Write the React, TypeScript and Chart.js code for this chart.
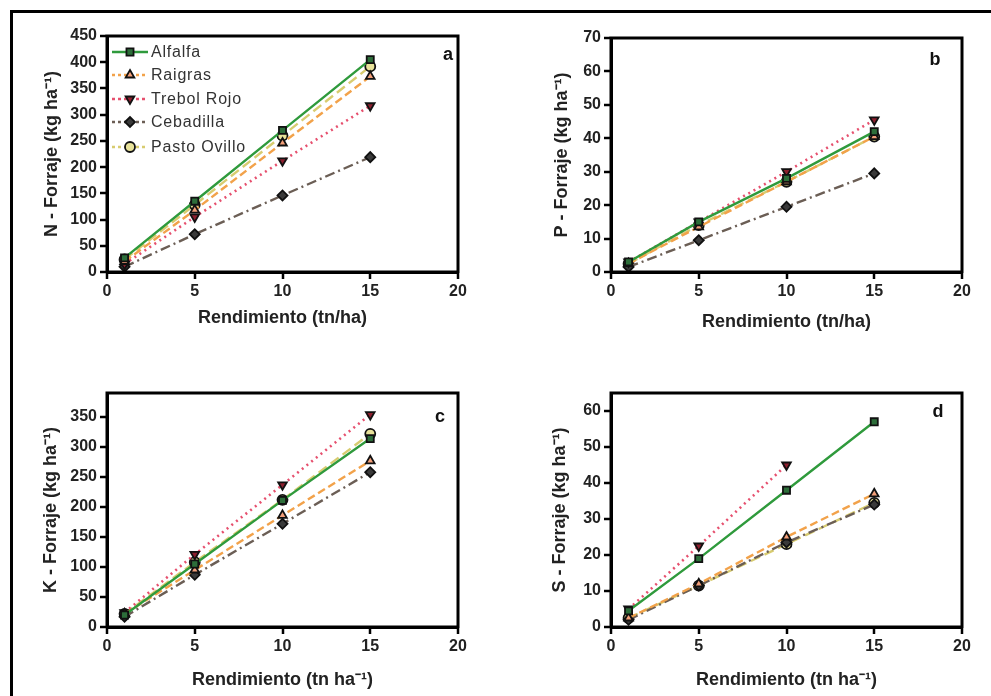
import React, { useEffect, useRef } from "react";
import { Chart, registerables } from "chart.js";
import { drawPoint } from "chart.js/helpers";

Chart.register(...registerables);

// ---------------- data ----------------
const xValues = [1, 5, 10, 15];
const seriesNames = ["Alfalfa", "Raigras", "Trebol Rojo", "Cebadilla", "Pasto Ovillo"];
const xTicks = [0, 5, 10, 15, 20];

// N
const nAlfalfa = [27, 135, 270, 405];
const nRaigras = [20, 118, 246, 373];
const nTrebolRojo = [15, 105, 212, 317];
const nCebadilla = [10, 72, 146, 219];
const nPastoOvillo = [24, 128, 260, 392];

// P
const pAlfalfa = [3, 15, 28, 42];
const pRaigras = [2.5, 13.5, 27, 40.5];
const pTrebolRojo = [3, 15, 30, 45.5];
const pCebadilla = [1.5, 9.5, 19.5, 29.5];
const pPastoOvillo = [2.5, 14, 27, 40.5];

// K
const kAlfalfa = [20, 105, 211, 314];
const kRaigras = [22, 95, 186, 277];
const kTrebolRojo = [24, 121, 237, 354];
const kCebadilla = [17, 87, 172, 258];
const kPastoOvillo = [22, 108, 212, 322];

// S
const sAlfalfa = [4.5, 19, 38, 57];
const sRaigras = [2.5, 12, 25, 37];
const sTrebolRojo = [5, 22.5, 45, null];
const sCebadilla = [2, 11.5, 23.5, 34];
const sPastoOvillo = [2.5, 11.5, 23, 34.5];

const yTicksN = [0, 50, 100, 150, 200, 250, 300, 350, 400, 450];
const yTicksP = [0, 10, 20, 30, 40, 50, 60, 70];
const yTicksK = [0, 50, 100, 150, 200, 250, 300, 350];
const yTicksS = [0, 10, 20, 30, 40, 50, 60];

// ---------------- styles ----------------
const FONT = "'Liberation Sans', Arial, Helvetica, sans-serif";

const seriesStyles = [
  { line: "#2f9a3c", fill: "#2d6e3a", point: "rect", rot: 0, dash: [] as number[], width: 2.4 },
  { line: "#f2a24a", fill: "#f4a07a", point: "triangle", rot: 0, dash: [8, 4], width: 2.4 },
  { line: "#e6506e", fill: "#8c1f2e", point: "triangle", rot: 180, dash: [2, 4], width: 2.6 },
  { line: "#6b5e55", fill: "#3a3a3a", point: "rectRot", rot: 0, dash: [10, 4, 2, 4], width: 2.4 },
  { line: "#d8cc70", fill: "#e8e29a", point: "circle", rot: 0, dash: [10, 5], width: 2.4 },
];

function makeDatasets(values: (number | null)[][]) {
  return values.map((vals, i) => {
    const st = seriesStyles[i];
    return {
      label: seriesNames[i],
      data: xValues.map((x, j) => ({ x, y: vals[j] })),
      borderColor: st.line,
      borderWidth: st.width,
      borderDash: st.dash,
      pointStyle: st.point,
      pointRotation: st.rot,
      pointRadius: 5,
      pointBackgroundColor: st.fill,
      pointBorderColor: "#111",
      pointBorderWidth: 1.8,
      spanGaps: false,
      fill: false,
      tension: 0,
    };
  });
}

type PanelCfg = {
  left: number; top: number; width: number; height: number;
  chartLeft: number; chartTop: number; chartRight: number; chartBottom: number;
  yMax: number; yTicks: number[]; yTitle: string; xTitle: string;
  yTitlePad: number; xTitlePad: number;
  letter: string; letterX: number; letterY: number;
  values: (number | null)[][];
  legend?: boolean;
};

const panels: PanelCfg[] = [
  {
    left: 0, top: 0, width: 480, height: 340,
    chartLeft: 107, chartTop: 36, chartRight: 458, chartBottom: 272,
    yMax: 450, yTicks: yTicksN, yTitle: "N - Forraje (kg ha⁻¹)", xTitle: "Rendimiento (tn/ha)",
    yTitlePad: 41, xTitlePad: 11,
    letter: "a", letterX: 448, letterY: 55,
    values: [nAlfalfa, nRaigras, nTrebolRojo, nCebadilla, nPastoOvillo],
    legend: true,
  },
  {
    left: 480, top: 0, width: 511, height: 340,
    chartLeft: 131, chartTop: 38, chartRight: 482, chartBottom: 272,
    yMax: 70, yTicks: yTicksP, yTitle: "P - Forraje (kg ha⁻¹)", xTitle: "Rendimiento (tn/ha)",
    yTitlePad: 71, xTitlePad: 7,
    letter: "b", letterX: 455, letterY: 60,
    values: [pAlfalfa, pRaigras, pTrebolRojo, pCebadilla, pPastoOvillo],
  },
  {
    left: 0, top: 340, width: 480, height: 356,
    chartLeft: 107, chartTop: 53, chartRight: 458, chartBottom: 287,
    yMax: 390, yTicks: yTicksK, yTitle: "K - Forraje (kg ha⁻¹)", xTitle: "Rendimiento (tn ha⁻¹)",
    yTitlePad: 40, xTitlePad: 5,
    letter: "c", letterX: 440, letterY: 77,
    values: [kAlfalfa, kRaigras, kTrebolRojo, kCebadilla, kPastoOvillo],
  },
  {
    left: 480, top: 340, width: 511, height: 356,
    chartLeft: 131, chartTop: 53, chartRight: 482, chartBottom: 287,
    yMax: 65, yTicks: yTicksS, yTitle: "S - Forraje (kg ha⁻¹)", xTitle: "Rendimiento (tn ha⁻¹)",
    yTitlePad: 69, xTitlePad: 5,
    letter: "d", letterX: 458, letterY: 72,
    values: [sAlfalfa, sRaigras, sTrebolRojo, sCebadilla, sPastoOvillo],
  },
];

function Panel({ cfg }: { cfg: PanelCfg }) {
  const ref = useRef<HTMLCanvasElement | null>(null);
  useEffect(() => {
    if (!ref.current) return;
    const framePlugin = {
      id: "frameAndLabels",
      afterDraw(chart: any) {
        const { ctx, chartArea } = chart;
        ctx.save();
        ctx.strokeStyle = "#000";
        ctx.lineWidth = 3;
        ctx.setLineDash([]);
        ctx.strokeRect(chartArea.left, chartArea.top, chartArea.right - chartArea.left, chartArea.bottom - chartArea.top);
        ctx.fillStyle = "#111";
        ctx.font = `bold 18px ${FONT}`;
        ctx.textAlign = "center";
        ctx.textBaseline = "middle";
        ctx.fillText(cfg.letter, cfg.letterX, cfg.letterY);

        if (cfg.legend) {
          const x0 = 112, x1 = 148, mx = 130, tx = 151;
          const ys = [52, 75, 99, 122, 147];
          chart.data.datasets.forEach((ds: any, i: number) => {
            const y = ys[i];
            ctx.save();
            ctx.strokeStyle = ds.borderColor;
            ctx.lineWidth = 2.6;
            ctx.setLineDash(ds.borderDash && ds.borderDash.length ? [3, 3] : []);
            ctx.beginPath();
            ctx.moveTo(x0, y);
            ctx.lineTo(x1, y);
            ctx.stroke();
            ctx.setLineDash([]);
            ctx.fillStyle = ds.pointBackgroundColor;
            ctx.strokeStyle = ds.pointBorderColor;
            ctx.lineWidth = ds.pointBorderWidth;
            drawPoint(ctx, { pointStyle: ds.pointStyle, rotation: ds.pointRotation, radius: 5, borderWidth: ds.pointBorderWidth }, mx, y);
            ctx.restore();
            ctx.save();
            ctx.fillStyle = "#333";
            ctx.font = `16px ${FONT}`;
            try { (ctx as any).letterSpacing = "0.8px"; } catch (e) {}
            ctx.textAlign = "left";
            ctx.textBaseline = "middle";
            ctx.fillText(ds.label, tx, y + 1);
            ctx.restore();
          });
        }
        ctx.restore();
      },
    };

    const tickFont = { family: FONT, size: 16, weight: "bold" as const };
    const titleFont = { family: FONT, size: 18, weight: "bold" as const };
    const chart = new Chart(ref.current, {
      type: "line",
      data: { datasets: makeDatasets(cfg.values) as any },
      options: {
        responsive: false,
        animation: false,
        devicePixelRatio: 1,
        layout: { padding: { top: cfg.chartTop, right: cfg.width - cfg.chartRight, left: 0, bottom: 0 } },
        plugins: { legend: { display: false }, tooltip: { enabled: false } },
        scales: {
          x: {
            type: "linear",
            min: 0,
            max: 20,
            afterBuildTicks: (s: any) => { s.ticks = xTicks.map((v) => ({ value: v })); },
            ticks: { color: "#222", font: tickFont, padding: 3, maxRotation: 0 },
            grid: { drawOnChartArea: false, tickLength: 7, tickWidth: 2.5, color: "#000", lineWidth: 2 },
            border: { color: "#000", width: 3 },
            title: { display: true, text: cfg.xTitle, color: "#222", font: titleFont, padding: { top: 0, bottom: cfg.xTitlePad } },
            afterFit: (s: any) => { s.height = cfg.height - cfg.chartBottom; },
          },
          y: {
            type: "linear",
            min: 0,
            max: cfg.yMax,
            afterBuildTicks: (s: any) => { s.ticks = cfg.yTicks.map((v) => ({ value: v })); },
            ticks: { color: "#222", font: tickFont, padding: 3 },
            grid: { drawOnChartArea: false, tickLength: 7, tickWidth: 2.5, color: "#000", lineWidth: 2 },
            border: { color: "#000", width: 3 },
            title: { display: true, text: cfg.yTitle, color: "#222", font: titleFont, padding: { top: cfg.yTitlePad, bottom: 0 } },
            afterFit: (s: any) => { s.width = cfg.chartLeft; },
          },
        },
      } as any,
      plugins: [framePlugin],
    });
    return () => chart.destroy();
  }, [cfg]);

  return (
    <canvas
      ref={ref}
      width={cfg.width}
      height={cfg.height}
      style={{ position: "absolute", left: cfg.left, top: cfg.top, width: cfg.width, height: cfg.height }}
    />
  );
}

export default function App() {
  return (
    <div style={{ position: "absolute", left: 0, top: 0, width: 991, height: 696, background: "#fff", overflow: "hidden" }}>
      {panels.map((p, i) => (
        <Panel key={i} cfg={p} />
      ))}
      <div
        style={{
          position: "absolute",
          left: 10,
          top: 10,
          width: 1000,
          height: 720,
          borderLeft: "3px solid #000",
          borderTop: "3px solid #000",
          boxSizing: "border-box",
          pointerEvents: "none",
        }}
      />
    </div>
  );
}
